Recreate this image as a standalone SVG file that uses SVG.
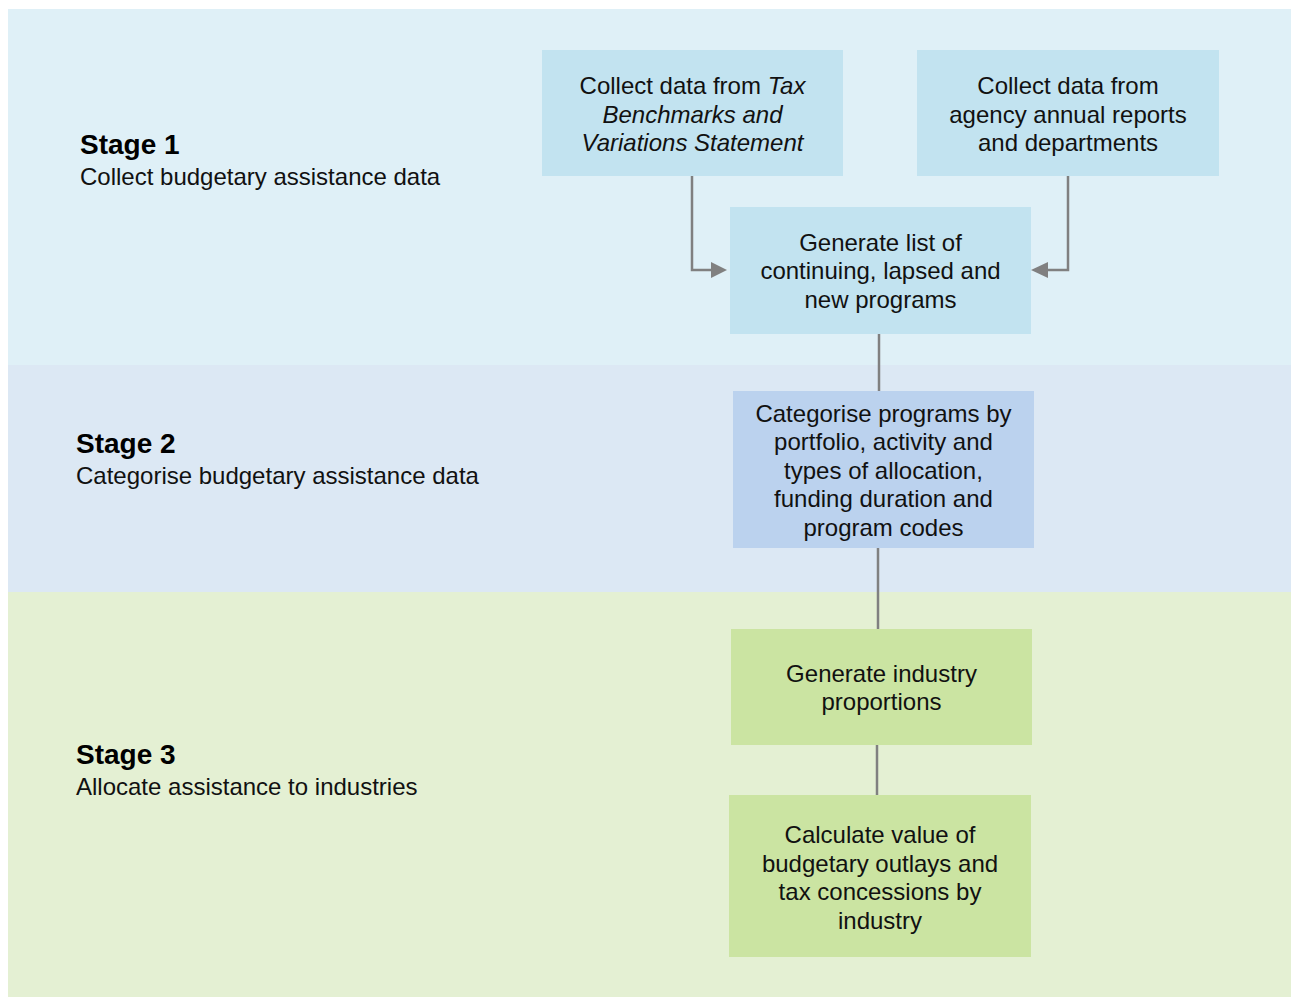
<svg xmlns="http://www.w3.org/2000/svg" width="1291" height="997" viewBox="0 0 1291 997">
<style>
.t{font-family:"Liberation Sans",Arial,sans-serif;font-size:24px;fill:#111;text-anchor:middle}
.h{font-family:"Liberation Sans",Arial,sans-serif;font-size:28px;font-weight:bold;fill:#000}
.s{font-family:"Liberation Sans",Arial,sans-serif;font-size:24px;fill:#111}
.b1{fill:#C2E3F0}
.b2{fill:#BBD2EE}
.b3{fill:#CBE4A2}
.c{stroke:#808080;stroke-width:2.5;fill:none}
</style>
<defs>
<marker id="arr" markerWidth="8" markerHeight="8" refX="7" refY="4" orient="auto" markerUnits="userSpaceOnUse" viewBox="0 0 8 8">
<path d="M0,0 L8,4 L0,8 Z" fill="#808080"/>
</marker>
</defs>
<rect width="1291" height="997" fill="#ffffff"/>
<g id="bands">
<rect x="8" y="9" width="1283" height="356" fill="#DFF0F7"/>
<rect x="8" y="365" width="1283" height="227" fill="#DCE8F4"/>
<rect x="8" y="592" width="1283" height="405" fill="#E4F0D3"/>
</g>
<g id="stage1">
<text class="h" x="80" y="154">Stage 1</text>
<text class="s" x="80" y="185">Collect budgetary assistance data</text>
</g>
<g id="stage2">
<text class="h" x="76" y="453">Stage 2</text>
<text class="s" x="76" y="484">Categorise budgetary assistance data</text>
</g>
<g id="stage3">
<text class="h" x="76" y="764">Stage 3</text>
<text class="s" x="76" y="795">Allocate assistance to industries</text>
</g>
<g id="connectors">
<path class="c" d="M692,176 V270 H712"/>
<path d="M711,262 L727,270 L711,278 Z" fill="#808080"/>
<path class="c" d="M1068,176 V270 H1047"/>
<path d="M1048,262 L1031,270 L1048,278 Z" fill="#808080"/>
<path class="c" d="M879,334 V391"/>
<path class="c" d="M878,548 V629"/>
<path class="c" d="M877,745 V795"/>
</g>
<g id="boxA">
<rect class="b1" x="542" y="50" width="301" height="126"/>
<text class="t" x="692.5" y="94">Collect data from <tspan font-style="italic">Tax</tspan></text>
<text class="t" x="692.5" y="122.5" font-style="italic">Benchmarks and</text>
<text class="t" x="692.5" y="151" font-style="italic">Variations Statement</text>
</g>
<g id="boxB">
<rect class="b1" x="917" y="50" width="302" height="126"/>
<text class="t" x="1068" y="94">Collect data from</text>
<text class="t" x="1068" y="122.5">agency annual reports</text>
<text class="t" x="1068" y="151">and departments</text>
</g>
<g id="boxC">
<rect class="b1" x="730" y="207" width="301" height="127"/>
<text class="t" x="880.5" y="250.5">Generate list of</text>
<text class="t" x="880.5" y="279">continuing, lapsed and</text>
<text class="t" x="880.5" y="307.5">new programs</text>
</g>
<g id="boxD">
<rect class="b2" x="733" y="391" width="301" height="157"/>
<text class="t" x="883.5" y="421.5">Categorise programs by</text>
<text class="t" x="883.5" y="450">portfolio, activity and</text>
<text class="t" x="883.5" y="478.5">types of allocation,</text>
<text class="t" x="883.5" y="507">funding duration and</text>
<text class="t" x="883.5" y="535.5">program codes</text>
</g>
<g id="boxE">
<rect class="b3" x="731" y="629" width="301" height="116"/>
<text class="t" x="881.5" y="681.5">Generate industry</text>
<text class="t" x="881.5" y="710">proportions</text>
</g>
<g id="boxF">
<rect class="b3" x="729" y="795" width="302" height="162"/>
<text class="t" x="880" y="843">Calculate value of</text>
<text class="t" x="880" y="871.5">budgetary outlays and</text>
<text class="t" x="880" y="900">tax concessions by</text>
<text class="t" x="880" y="928.5">industry</text>
</g>
</svg>
